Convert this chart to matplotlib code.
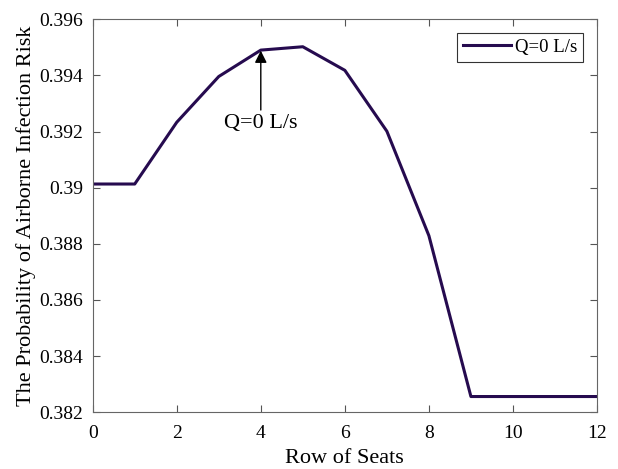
import matplotlib
matplotlib.use('Agg')
import matplotlib.pyplot as plt

# Datos
filas = [0, 1, 2, 3, 4, 5, 6, 7, 8, 9, 10, 11, 12]
riesgo = [0.39013, 0.39013, 0.39233, 0.39396, 0.39490, 0.39502, 0.39418,
          0.39201, 0.38829, 0.38256, 0.38256, 0.38256, 0.38256]

plt.rcParams['font.family'] = ['Liberation Serif', 'DejaVu Serif']
plt.rcParams['font.size'] = 14

fig, ax = plt.subplots(figsize=(6.18, 4.69), dpi=100)
fig.subplots_adjust(left=0.150, right=0.966, top=0.959, bottom=0.121)

ax.plot(filas, riesgo, color='#260b4f', linewidth=2.2, label='Q=0 L/s')
ax.annotate('Q=0 L/s', xy=(4, 0.39488), xytext=(4, 0.39228),
            ha='center', va='center', fontsize=16,
            arrowprops=dict(arrowstyle='-|>', color='black', lw=1, mutation_scale=18,
                            shrinkA=1, shrinkB=0))

ax.set_xlim(0, 12)
ax.set_ylim(0.382, 0.396)
ax.set_xticks(range(0, 13, 2))
ax.set_yticks([0.382, 0.384, 0.386, 0.388, 0.39, 0.392, 0.394, 0.396])
ax.set_yticklabels(['0.382', '0.384', '0.386', '0.388', '0.39', '0.392', '0.394', '0.396'])
ax.tick_params(direction='in', top=True, right=True, length=5, color='#555555')
ax.tick_params(axis='x', pad=9)
ax.tick_params(axis='y', pad=7)
for s in ax.spines.values():
    s.set_color('#666666')
ax.set_xlabel('Row of Seats', fontsize=16, labelpad=5)
ax.set_ylabel('The Probability of Airborne Infection Risk', fontsize=16, labelpad=2)

leg = ax.legend(loc='upper right', fancybox=False, edgecolor='black',
                borderaxespad=0.75, handlelength=2.6, handletextpad=0.2,
                borderpad=0.3, fontsize=13.5)
leg.get_frame().set_linewidth(0.8)

plt.savefig('out.png', dpi=100)
